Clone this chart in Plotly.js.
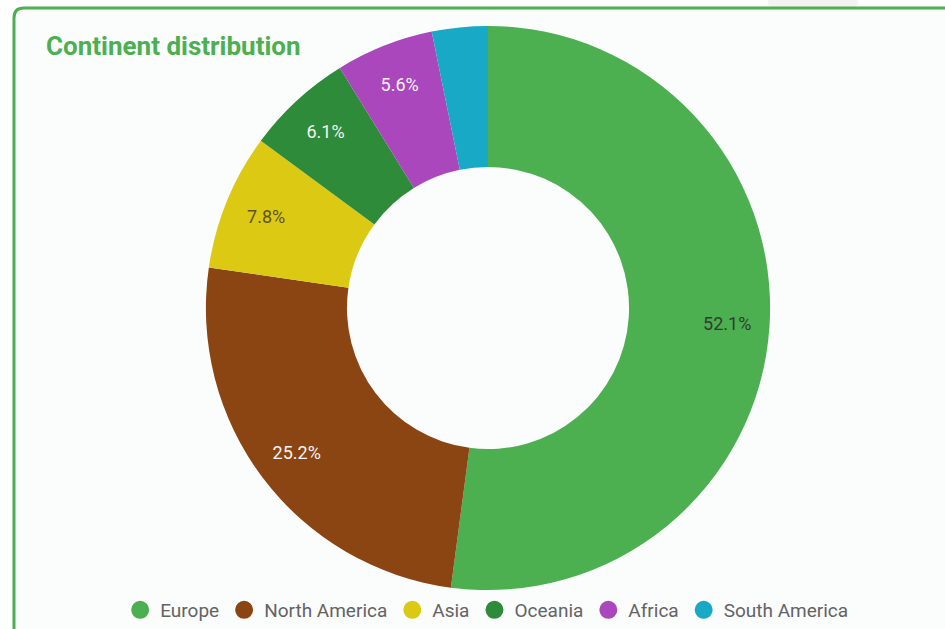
<!DOCTYPE html>
<html>
<head>
<meta charset="utf-8">
<script src="https://cdn.plot.ly/plotly-3.0.1.min.js"></script>
<style>
html,body{margin:0;padding:0;background:#ffffff;}
#chart{width:945px;height:629px;}
</style>
</head>
<body>
<div id="chart"></div>
<script>
const continents = ["Europe", "North America", "Asia", "Oceania", "Africa", "South America"];
const shares = [52.1, 25.2, 7.8, 6.1, 5.6, 3.2];
const sliceLabels = ["52.1%", "25.2%", "7.8%", "6.1%", "5.6%", ""];
const sliceColors = ["#4caf50", "#8b4513", "#dcc914", "#2e8b3a", "#ab47bc", "#17a9c6"];
const labelColors = ["#333b33", "#f4f4f4", "#5e5325", "#f4f4f4", "#f4f4f4", "#f4f4f4"];

const domain = {x: [(488 - 283) / 945, (488 + 283) / 945], y: [1 - 592 / 629, 1 - 26 / 629]};

// ring of coloured slices
const ring = {
  type: "pie",
  labels: continents,
  values: shares,
  textinfo: "none",
  hole: 0.5,
  sort: false,
  direction: "clockwise",
  rotation: 0,
  marker: {colors: sliceColors, line: {width: 0}},
  domain: domain,
  showlegend: false,
  hoverinfo: "label+percent"
};

// transparent overlay carrying the percentage labels (outer part of the ring)
const labelRing = {
  type: "pie",
  labels: continents,
  values: shares,
  text: sliceLabels,
  textinfo: "text",
  textposition: "inside",
  insidetextorientation: "horizontal",
  hole: 0.7,
  sort: false,
  direction: "clockwise",
  rotation: 0,
  marker: {colors: continents.map(() => "rgba(0,0,0,0)"), line: {width: 0}},
  textfont: {family: "Roboto, sans-serif", size: 18, color: labelColors},
  domain: domain,
  showlegend: false,
  hoverinfo: "skip"
};

const legendTraces = continents.map((name, i) => ({
  type: "scatter",
  mode: "markers",
  x: [null], y: [null],
  name: name,
  marker: {symbol: "circle", size: 16, color: sliceColors[i], line: {color: sliceColors[i], width: 2}},
  showlegend: true,
  hoverinfo: "skip"
}));

const layout = {
  width: 945,
  height: 629,
  margin: {l: 0, r: 0, t: 0, b: 0},
  paper_bgcolor: "#ffffff",
  plot_bgcolor: "rgba(0,0,0,0)",
  xaxis: {visible: false},
  yaxis: {visible: false},
  title: {
    text: "<b>Continent distribution</b>",
    font: {family: "Roboto, sans-serif", size: 26, color: "#4caf50"},
    x: 46 / 945, xanchor: "left", xref: "paper",
    y: 1 - 46 / 629, yanchor: "middle", yref: "paper"
  },
  legend: {
    orientation: "h",
    x: 0.515, xanchor: "center",
    y: 1 - 612 / 629, yanchor: "middle",
    font: {family: "Roboto, sans-serif", size: 19, color: "#636363"},
    bgcolor: "rgba(0,0,0,0)",
    itemclick: false
  },
  shapes: [
    {
      type: "path", xref: "paper", yref: "paper", layer: "below",
      path: "M 0.8127,1.01 L 0.8127,0.995 Q 0.8127,0.988 0.8190,0.988 L 0.9016,0.988 Q 0.9079,0.988 0.9079,0.995 L 0.9079,1.01 Z",
      fillcolor: "#f3f3f3", line: {width: 0}
    },
    {
      type: "path", xref: "paper", yref: "paper", layer: "below",
      path: "M 0.0148,-0.1 L 0.0148,0.9714 Q 0.0148,0.9873 0.0254,0.9873 L 1.1,0.9873 L 1.1,-0.1 Z",
      fillcolor: "#fbfcfc", line: {color: "#4caf50", width: 3}
    }
  ]
};

Plotly.newPlot("chart", [ring, labelRing].concat(legendTraces), layout, {displayModeBar: false});
</script>
</body>
</html>
